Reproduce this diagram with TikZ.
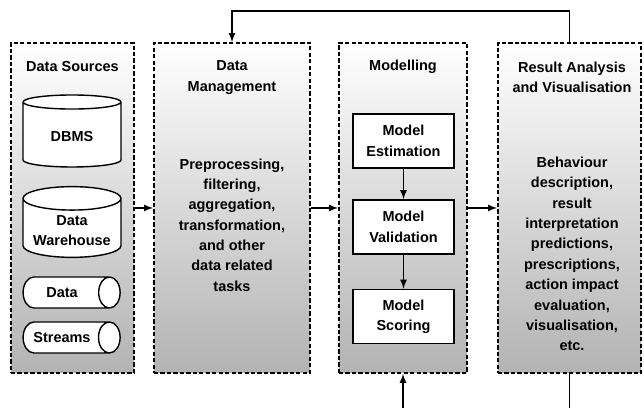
\documentclass[tikz,border=0pt]{standalone}
\usepackage{fontspec}
\setmainfont{Liberation Sans}
\usetikzlibrary{shapes.geometric}

\begin{document}
\begin{tikzpicture}[
        every node/.style={font=\bfseries\fontsize{10.3}{14.5}\selectfont},
        stagebox/.style={rectangle, draw=black, line width=1.3pt, dash pattern=on 3pt off 1.6pt, top color=white, bottom color=black!30, minimum height=8.25cm},
        database/.style={cylinder, shape border rotate=90, aspect=0.27, anchor=shape center, draw=black, line width=1pt, fill=white, minimum width=2.45cm, minimum height=1.8cm, align=center},
        stream/.style={cylinder, aspect=1.1, anchor=shape center, inner xsep=1pt, draw=black, line width=1pt, fill=white, minimum width=0.775cm, minimum height=2.425cm},
        modelbox/.style={rectangle, draw=black, line width=1.2pt, fill=white, minimum width=2.525cm, minimum height=1.35cm, align=center},
        arrow/.style={->, line width=1.2pt, draw=black, >=latex}
        ]
        \useasboundingbox (0,0) rectangle (16.1,10.2);
        \clip (0,0) rectangle (16.1,10.2);

        % the four stages
        \node[stagebox, minimum width=3.075cm] (sources) at (1.8125, 5.0) {};
        \node[stagebox, minimum width=3.9cm] (management) at (5.8, 5.0) {};
        \node[stagebox, minimum width=3.2cm] (modelling) at (10.075, 5.0) {};
        \node[stagebox, minimum width=3.575cm] (results) at (14.2375, 5.0) {};

        \node (sourcestitle) at (1.8125, 8.525) {Data Sources};
        \node[align=center] (managementtitle) at (5.8, 8.26) {Data\\Management};
        \node (modellingtitle) at (10.075, 8.525) {Modelling};
        \node[align=center] (resultstitle) at (14.3, 8.26) {Result Analysis\\and Visualisation};

        % data sources
        \node[database] (dbms) at (1.8, 6.925) {DBMS};
        \node[database, minimum height=1.75cm] (warehouse) at (1.8, 4.65) {Data\\Warehouse};
        \node[stream] (data) at (1.79, 2.8875) {Data};
        \node[stream] (streams) at (1.79, 1.7625) {Streams};

        % data management
        \node[align=center] (tasks) at (5.8, 4.575) {Preprocessing,\\filtering,\\aggregation,\\transformation,\\and other\\data related\\tasks};

        % modelling
        \node[modelbox] (estimation) at (10.0875, 6.675) {Model\\Estimation};
        \node[modelbox] (validation) at (10.0875, 4.525) {Model\\Validation};
        \node[modelbox] (scoring) at (10.0875, 2.2875) {Model\\Scoring};

        % results
        \node[align=center] (outcomes) at (14.3, 3.85) {Behaviour\\description,\\result\\interpretation\\predictions,\\prescriptions,\\action impact\\evaluation,\\visualisation,\\etc.};

        \draw[arrow] (sources) -- (management);
        \draw[arrow] (management) -- (modelling);
        \draw[arrow] (modelling) -- (results);
        \draw[arrow] (estimation) -- (validation);
        \draw[arrow] (validation) -- (scoring);

        \draw[arrow] (results.north) -- ++(0,0.775) -| (management.north);
        \draw[arrow] (results.south) -- ++(0,-1.2) -| (modelling.south);

    \end{tikzpicture}
\end{document}
